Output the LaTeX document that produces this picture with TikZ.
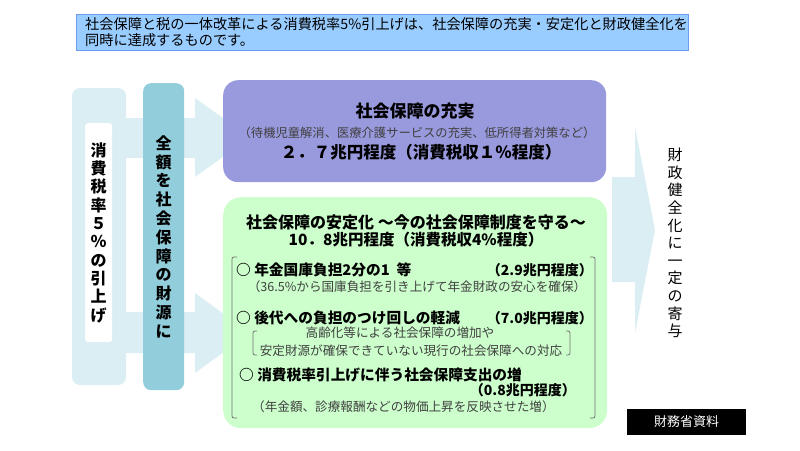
\documentclass[tikz,border=0pt]{standalone}
\usepackage{fontspec}
\newfontfamily\jp{Noto Sans CJK JP}
\usetikzlibrary{positioning}
\definecolor{notebg}{HTML}{99CCFF}
\definecolor{noteline}{HTML}{6C9CF0}
\definecolor{flowblue}{HTML}{DAEEF3}
\definecolor{fundteal}{HTML}{92CDDC}
\definecolor{enrichpurple}{HTML}{9999DD}
\definecolor{stablegreen}{HTML}{CCFFCC}

\begin{document}
\begin{tikzpicture}[x=1pt, y=-1pt,
    every node/.style={font=\jp, inner sep=0pt},
    panel/.style={rounded corners=#1, anchor=north west},
    vtext/.style={align=center, font=\jp\bfseries\fontsize{16}{18.8}\selectfont},
    item/.style={anchor=west, font=\jp\bfseries\fontsize{14.7}{17}\selectfont},
    amount/.style={anchor=east, font=\jp\bfseries\fontsize{14}{16}\selectfont},
    detail/.style={font=\jp\fontsize{12.6}{14}\selectfont, text=black!75},
    bracket/.style={draw=black!55, line width=0.8pt, rounded corners=2pt}
]
\useasboundingbox (0,0) rectangle (800,450);

% Intro note
\node[panel=0pt, draw=noteline, fill=notebg, line width=1pt, minimum width=612pt, minimum height=36pt] (intro) at (76,14) {};
\node[anchor=west, align=left, font=\jp\fontsize{14.2}{16}\selectfont] (introtext) at ([xshift=9pt]intro.west)
  {社会保障と税の一体改革による消費税率5\%引上げは、社会保障の充実・安定化と財政健全化を\\同時に達成するものです。};

% Flow from the tax rise
\fill[flowblue, rounded corners=8pt] (72,88) rectangle (126,385);
\fill[flowblue] (120,118) -- (195,118) -- (195,98) -- (250,137.5) -- (195,177) -- (195,158) -- (120,158) -- cycle;
\fill[flowblue] (120,312) -- (195,312) -- (195,293) -- (250,333) -- (195,373) -- (195,353) -- (120,353) -- cycle;
\fill[flowblue] (612,177) -- (635,177) -- (635,127) -- (655,230) -- (635,333) -- (635,282) -- (612,282) -- cycle;

\node[panel=3pt, fill=white, minimum width=27pt, minimum height=219pt] (raisebox) at (85,123) {};
\node[vtext, font=\jp\bfseries\fontsize{16}{18.3}\selectfont] (raise) at (raisebox.center) {消\\費\\税\\率\\５\\％\\の\\引\\上\\げ};

\node[panel=8pt, fill=fundteal, minimum width=41pt, minimum height=307pt] (fundbar) at (143,83) {};
\node[vtext] (fund) at (fundbar.center) {全\\額\\を\\社\\会\\保\\障\\の\\財\\源\\に};

% Enrichment of social security
\node[panel=15pt, fill=enrichpurple, minimum width=383pt, minimum height=102pt] (enrich) at (223,80) {};
\node[font=\jp\bfseries\fontsize{17}{20}\selectfont] (enrichtitle) at (415,111) {社会保障の充実};
\node[detail, font=\jp\fontsize{12.3}{14}\selectfont] (enrichnote) at (417,133) {（待機児童解消、医療介護サービスの充実、低所得者対策など）};
\node[font=\jp\bfseries\fontsize{16.5}{18}\selectfont] (enrichsum) at (421,152) {２．７兆円程度（消費税収１％程度）};

% Stabilisation of social security
\node[panel=18pt, fill=stablegreen, minimum width=384pt, minimum height=231pt] (stable) at (223,197) {};
\node[font=\jp\bfseries\fontsize{16}{18}\selectfont] (stabletitle) at (416,222) {社会保障の安定化 ～今の社会保障制度を守る～};
\node[font=\jp\bfseries\fontsize{15.5}{18}\selectfont] (stablesum) at (416,240) {10．8兆円程度（消費税収4\%程度）};

\draw[bracket] (237,257) -- (232,257) -- (232,418) -- (237,418);
\draw[bracket] (590,257) -- (595,257) -- (595,418) -- (590,418);

\node[item] (pension) at (236,270) {○ 年金国庫負担2分の1\ \ 等};
\node[amount] (pensionsum) at (593,270) {（2.9兆円程度）};
\node[detail] (pensionnote) at (417,287) {（36.5\%から国庫負担を引き上げて年金財政の安心を確保）};

\node[item] (burden) at (236,318) {○ 後代への負担のつけ回しの軽減};
\node[amount] (burdensum) at (593,318) {（7.0兆円程度）};
\draw[bracket] (257,331) -- (253,331) -- (253,355) -- (257,355);
\draw[bracket] (566,331) -- (570,331) -- (570,355) -- (566,355);
\node[detail] (burdennote1) at (400,333) {高齢化等による社会保障の増加や};
\node[detail] (burdennote2) at (411,351) {安定財源が確保できていない現行の社会保障への対応};

\node[item] (pricerise) at (239,375) {○ 消費税率引上げに伴う社会保障支出の増};
\node[amount] (pricerisesum) at (576,390) {（0.8兆円程度）};
\node[detail, anchor=west] (pricerisenote) at (252,407) {（年金額、診療報酬などの物価上昇を反映させた増）};

% Fiscal consolidation
\node[align=center, font=\jp\fontsize{15}{17.6}\selectfont] (fiscal) at (675,243) {財\\政\\健\\全\\化\\に\\一\\定\\の\\寄\\与};

% Source
\node[fill=black, text=white, minimum width=119pt, minimum height=26pt, font=\jp\fontsize{13}{15}\selectfont] (source) at (686.5,422) {財務省資料};

\end{tikzpicture}
\end{document}
